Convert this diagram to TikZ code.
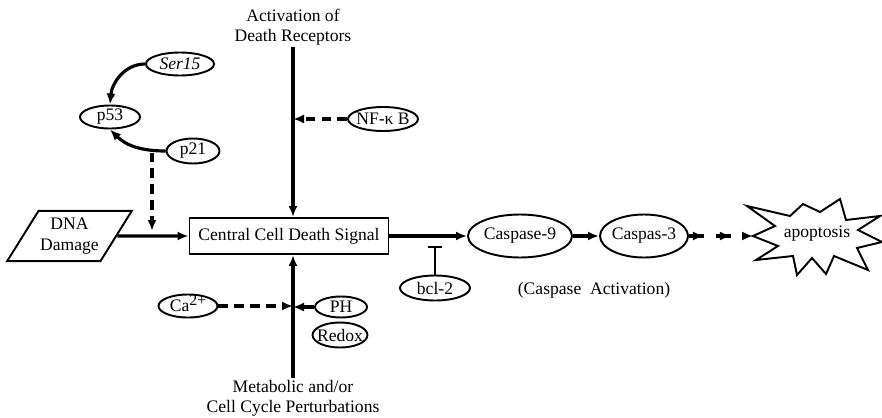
\documentclass[tikz,border=0pt]{standalone}
\usepackage{fontspec}
\setmainfont{Liberation Serif}
\usetikzlibrary{arrows.meta,positioning,shapes.geometric,decorations.markings}
\begin{document}
\begin{tikzpicture}[>={Latex[length=2.2mm,width=1.8mm]},font=\fontsize{10}{11.5}\selectfont,
  ell/.style={ellipse,draw,line width=1.1pt,inner xsep=-2pt,inner ysep=0pt},
  line/.style={->,line width=1.8pt},
  dline/.style={line,dash pattern=on 5.5pt off 3.5pt},
  lbl/.style={align=center,inner sep=1pt}]
\useasboundingbox (0,0) rectangle (17.64,-8.34);
\node[draw,line width=1.1pt,minimum width=3.98cm,minimum height=0.72cm] (cds) at (5.78,-4.72) {Central Cell Death Signal};
\node[lbl] (dr) at (5.86,-0.54) {Activation of\\Death Receptors};
\node[lbl] (mp) at (5.86,-7.97) {Metabolic and/or\\Cell Cycle Perturbations};
\node[trapezium,trapezium left angle=58,trapezium right angle=122,draw,line width=1.1pt,align=center,minimum height=1cm,minimum width=2.5cm,inner xsep=0pt] (dna) at (1.39,-4.72) {DNA\\Damage};
\node[ell,minimum width=1.36cm,minimum height=0.46cm] (ser) at (3.60,-1.28) {\textit{Ser15}};
\node[ell,minimum width=1.2cm,minimum height=0.46cm] (p53) at (2.20,-2.34) {p53};
\node[ell,minimum width=1.06cm,minimum height=0.5cm] (p21) at (3.86,-3.02) {p21};
\node[ell,minimum width=1.4cm,minimum height=0.48cm] (nfkb) at (7.66,-2.38) {NF-κ B};
\node[ell,minimum width=1.18cm,minimum height=0.46cm,text depth=0pt,text height=6.5pt] (ca) at (3.76,-6.12) {Ca\raisebox{0.75ex}{\fontsize{9}{9}\selectfont 2+}};
\node[ell,minimum width=1.04cm,minimum height=0.42cm] (ph) at (6.82,-6.14) {PH};
\node[ell,minimum width=1.08cm,minimum height=0.5cm] (redox) at (6.80,-6.70) {Redox};
\node[ell,minimum width=1.4cm,minimum height=0.5cm] (bcl) at (8.70,-5.76) {bcl-2};
\node[ell,minimum width=2.08cm,minimum height=0.86cm] (c9) at (10.40,-4.72) {Caspase-9};
\node[ell,minimum width=1.76cm,minimum height=0.86cm] (c3) at (12.88,-4.72) {Caspas-3};
\node (cact) at (11.88,-5.80) {(Caspase\ \ Activation)};
\node (apo) at (16.34,-4.68) {apoptosis};
\draw[line width=1.1pt,shift={(16.30,-4.72)}] (-1.24,0) -- (-0.80,0.20) -- (-1.36,0.60) -- (-0.50,0.40) -- (-0.24,0.64) -- (0.10,0.48) -- (0.50,0.74) -- (0.62,0.32) -- (1.30,0.40) -- (0.86,0.12) -- (1.34,-0.12) -- (0.84,-0.24) -- (1.06,-0.68) -- (0.38,-0.40) -- (0.22,-0.76) -- (-0.06,-0.44) -- (-0.36,-0.78) -- (-0.44,-0.40) -- (-1.18,-0.48) -- (-0.74,-0.20) -- cycle;
\coordinate (tap) at (3.04,-3.05);
\coordinate (tapend) at (3.04,-4.62);
\coordinate (blk) at (8.70,-4.92);
\coordinate (apotip) at (15.06,-4.72);
\draw[line] (dr.south) -- (dr.south |- cds.north);
\draw[dline] (nfkb.west) -- (dr.south |- nfkb.west);
\draw[line] (mp.north) -- (mp.north |- cds.south);
\draw[dline] (ca.east) -- (mp.north |- ca.east);
\draw[dline] (ph.west) -- (mp.north |- ph.west);
\draw[line] (ser.west) to[out=180,in=85] (p53.north);
\draw[line] (p21.west) to[out=180,in=-45] (p53.south);
\draw[dline] (tap) -- (tapend);
\draw[line] (dna.east) -- (cds.west);
\draw[line] (cds.east) -- (c9.west);
\draw[line] (c9) -- (c3);
\draw[line width=1.1pt,-{Bar[width=8.5pt]}] (bcl.north) -- (blk);
\draw[line,dash pattern=on 0.3cm off 0.24cm,postaction={decorate},decoration={markings,mark=at position 0.3cm with {\arrow{>}},mark=at position 0.84cm with {\arrow{>}}}] (c3.east) -- (apotip);
\end{tikzpicture}
\end{document}
